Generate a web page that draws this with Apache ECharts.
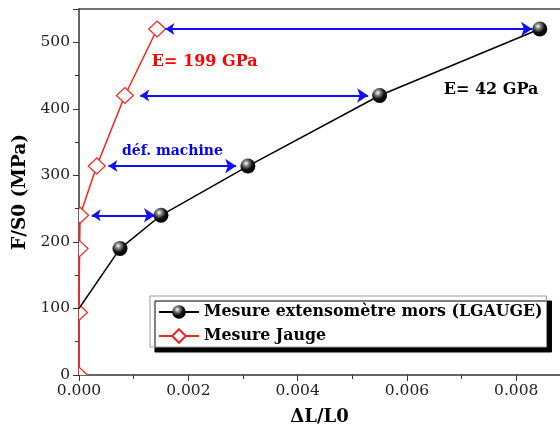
<!DOCTYPE html>
<html>
<head>
<meta charset="utf-8">
<script src="https://cdn.jsdelivr.net/npm/echarts@6/dist/echarts.min.js"></script>
<style>html,body{margin:0;padding:0;background:#fff;}#c{width:560px;height:432px;}</style>
</head>
<body>
<div id="c"></div>
<script>
// ---- data ----
const extX = [0, 0.00075, 0.00150, 0.00309, 0.00550, 0.00843];
const extY = [100, 190, 240, 314, 420, 520];
const jaugeX = [0, 0, 0.00001, 0.00002, 0.000325, 0.00084, 0.00143];
const jaugeY = [0, 94, 190, 240, 314, 420, 520];
const arrowY = [240, 314, 420, 520];
const arrowX1 = [0.000233, 0.000538, 0.00112, 0.00158];
const arrowX2 = [0.00139, 0.002875, 0.00529, 0.00829];
const noteText = ['E= 199 GPa', 'déf. machine', 'E= 42 GPa'];
const noteX = [0.0023, 0.00171, 0.00754];
const noteY = [470, 336, 428];
const noteColor = ['#ff0000', '#0000ff', '#000000'];
const noteSize = [16, 14, 16];
const xTicks = ['0.000', '0.002', '0.004', '0.006', '0.008'];
const yTicks = ['0', '100', '200', '300', '400', '500'];
const seriesNames = ['Mesure extensomètre mors (LGAUGE)', 'Mesure Jauge'];

const FONT = 'DejaVu Serif';
const sphere = {
  type: 'radial', x: 0.38, y: 0.32, r: 0.7,
  colorStops: [{offset: 0, color: '#ffffff'}, {offset: 0.25, color: '#888888'}, {offset: 0.6, color: '#111111'}, {offset: 1, color: '#000000'}]
};

const chart = echarts.init(document.getElementById('c'), null, {renderer: 'canvas'});
const extData = extX.map((x, i) => i === 0 ? {value: [x, extY[i]], symbol: 'none'} : [x, extY[i]]);
const jaugeLine = jaugeX.map((x, i) => ({value: [x, jaugeY[i]], symbol: 'none'}));
const jaugeMarks = jaugeX.map((x, i) => [x, jaugeY[i]]);
const arrows = arrowY.map((y, i) => ({coords: [[arrowX1[i], y], [arrowX2[i], y]]}));
const notes = noteText.map((t, i) => [noteX[i], noteY[i], i]);

chart.setOption({
  animation: false,
  backgroundColor: '#fff',
  grid: {left: 79, right: 0, top: 9, bottom: 57},
  legend: {
    data: seriesNames,
    orient: 'vertical',
    left: 150, top: 296,
    padding: [8, 4, 3, 8],
    itemWidth: 40, itemHeight: 17, itemGap: 8,
    backgroundColor: '#fff',
    borderColor: '#999', borderWidth: 1,
    shadowColor: '#000', shadowBlur: 0, shadowOffsetX: 5, shadowOffsetY: 5,
    textStyle: {fontFamily: FONT, fontWeight: 'bold', fontSize: 15.8, color: '#000'}
  },
  xAxis: [{
    type: 'value', min: 0, max: 0.0088, interval: 0.002,
    name: 'ΔL/L0', nameLocation: 'middle', nameGap: 33,
    nameTextStyle: {fontFamily: FONT, fontWeight: 'bold', fontSize: 18, color: '#000'},
    axisLine: {show: true, onZero: false, lineStyle: {color: '#333', width: 1.5}},
    axisTick: {show: true, inside: false, length: 6, lineStyle: {color: '#333'}},
    minorTick: {show: true, splitNumber: 2, length: 4, lineStyle: {color: '#333'}},
    splitLine: {show: false},
    axisLabel: {fontFamily: FONT, fontSize: 15.5, color: '#222', margin: 8,
      formatter: v => { const i = Math.round(v / 0.002); return xTicks[i] !== undefined ? xTicks[i] : ''; }}
  }, {
    type: 'value', position: 'top', min: 0, max: 0.0088,
    axisLine: {show: true, onZero: false, lineStyle: {color: '#444', width: 1.5}},
    axisTick: {show: false}, axisLabel: {show: false}, splitLine: {show: false}
  }],
  yAxis: {
    type: 'value', min: 0, max: 550, interval: 100,
    name: 'F/S0 (MPa)', nameLocation: 'middle', nameGap: 45,
    nameTextStyle: {fontFamily: FONT, fontWeight: 'bold', fontSize: 18.5, color: '#000'},
    axisLine: {show: true, onZero: false, lineStyle: {color: '#333', width: 1.5}},
    axisTick: {show: true, inside: false, length: 6, lineStyle: {color: '#333'}},
    minorTick: {show: true, splitNumber: 2, length: 4, lineStyle: {color: '#333'}},
    splitLine: {show: false},
    axisLabel: {fontFamily: FONT, fontSize: 15.5, color: '#222', margin: 9,
      formatter: v => { const i = Math.round(v / 100); return (Math.abs(v - i * 100) < 1e-6 && yTicks[i] !== undefined) ? yTicks[i] : ''; }}
  },
  series: [
    {
      name: seriesNames[1], type: 'line', data: jaugeLine, z: 2,
      symbol: 'diamond', symbolSize: [17, 16],
      lineStyle: {color: '#ff2020', width: 1.5},
      itemStyle: {color: '#fff', borderColor: '#ff2020', borderWidth: 1.2}
    },
    {
      name: 'jaugeMarks', type: 'custom', data: jaugeMarks, clip: true, z: 3,
      encode: {x: 0, y: 1},
      renderItem: (params, api) => {
        const p = api.coord([api.value(0), api.value(1)]);
        return {type: 'polygon', shape: {points: [[p[0], p[1] - 8], [p[0] + 8.5, p[1]], [p[0], p[1] + 8], [p[0] - 8.5, p[1]]]},
          style: {fill: '#fff', stroke: '#ff2020', lineWidth: 1.2}};
      }
    },
    {
      name: seriesNames[0], type: 'line', data: extData, z: 4,
      symbol: 'circle', symbolSize: 15,
      lineStyle: {color: '#000', width: 1.5},
      itemStyle: {color: sphere}
    },
    {
      type: 'lines', coordinateSystem: 'cartesian2d', data: arrows, z: 5,
      symbol: ['arrow', 'arrow'], symbolSize: [9, 11],
      lineStyle: {color: '#1010ff', width: 2, opacity: 1}
    },
    {
      name: 'notes', type: 'custom', data: notes, z: 6, silent: true, clip: false,
      encode: {x: 0, y: 1},
      renderItem: (params, api) => {
        const p = api.coord([api.value(0), api.value(1)]);
        const k = api.value(2);
        return {type: 'text', x: p[0], y: p[1],
          style: {text: noteText[k], fill: noteColor[k], fontSize: noteSize[k], fontWeight: 'bold', fontFamily: FONT,
            align: 'center', verticalAlign: 'middle', opacity: 1}};
      }
    }
  ]
});
</script>
</body>
</html>
